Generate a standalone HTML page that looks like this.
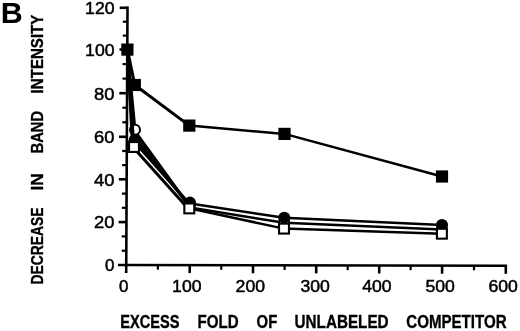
<!DOCTYPE html>
<html><head><meta charset="utf-8"><title>Figure B</title>
<style>
html,body{margin:0;padding:0;background:#fff;}
body{width:520px;height:331px;overflow:hidden;}
svg{display:block;}
text{font-family:"Liberation Sans",sans-serif;fill:#000;}
.t{font-size:17.4px;stroke:#000;stroke-width:0.5px;}
.b{font-weight:bold;font-size:18px;stroke:#000;stroke-width:0.35px;}
</style></head><body>
<svg width="520" height="331" viewBox="0 0 520 331">
<rect width="520" height="331" fill="#fff"/>
<g stroke="#000" stroke-width="2.6" fill="none" stroke-linecap="butt">
<path d="M127.5 6.5L126.2 273"/>
<path d="M118 265.0L507.1 265.8"/>
<path d="M119.7 7.8H127.5"/>
<path d="M119.5 49.5H127.3"/>
<path d="M122.8 35.6H127.4" stroke-width="2.2"/>
<path d="M122.8 21.7H127.4" stroke-width="2.2"/>
<path d="M119.3 93.2H127.1"/>
<path d="M122.5 78.6H127.1" stroke-width="2.2"/>
<path d="M122.6 64.1H127.2" stroke-width="2.2"/>
<path d="M119.0 136.8H126.8"/>
<path d="M122.3 122.3H126.9" stroke-width="2.2"/>
<path d="M122.4 107.7H127.0" stroke-width="2.2"/>
<path d="M118.8 179.3H126.6"/>
<path d="M122.1 165.1H126.7" stroke-width="2.2"/>
<path d="M122.2 151.0H126.8" stroke-width="2.2"/>
<path d="M118.6 222.1H126.4"/>
<path d="M121.9 207.8H126.5" stroke-width="2.2"/>
<path d="M122.0 193.6H126.6" stroke-width="2.2"/>
<path d="M121.7 250.7H126.3" stroke-width="2.2"/>
<path d="M121.7 236.4H126.3" stroke-width="2.2"/>
<path d="M157.9 265.1V269.7" stroke-width="2.2"/>
<path d="M189.7 265.1V273.1"/>
<path d="M221.3 265.2V269.8" stroke-width="2.2"/>
<path d="M253.0 265.3V273.3"/>
<path d="M284.6 265.3V269.9" stroke-width="2.2"/>
<path d="M316.2 265.4V273.4"/>
<path d="M347.7 265.5V270.1" stroke-width="2.2"/>
<path d="M379.2 265.5V273.5"/>
<path d="M410.6 265.6V270.2" stroke-width="2.2"/>
<path d="M442.1 265.7V273.7"/>
<path d="M474.0 265.7V270.3" stroke-width="2.2"/>
<path d="M505.8 265.8V273.8"/>
</g>
<text class="t" x="114.5" y="14.1" text-anchor="end" textLength="29.4" lengthAdjust="spacingAndGlyphs">120</text>
<text class="t" x="114.5" y="55.9" text-anchor="end" textLength="29.4" lengthAdjust="spacingAndGlyphs">100</text>
<text class="t" x="114.5" y="99.5" text-anchor="end" textLength="20.4" lengthAdjust="spacingAndGlyphs">80</text>
<text class="t" x="114.5" y="143.2" text-anchor="end" textLength="20.4" lengthAdjust="spacingAndGlyphs">60</text>
<text class="t" x="114.5" y="185.7" text-anchor="end" textLength="20.4" lengthAdjust="spacingAndGlyphs">40</text>
<text class="t" x="114.5" y="228.4" text-anchor="end" textLength="20.4" lengthAdjust="spacingAndGlyphs">20</text>
<text class="t" x="114.5" y="271.4" text-anchor="end" textLength="9.4" lengthAdjust="spacingAndGlyphs">0</text>
<text class="t" x="123.8" y="291.8" text-anchor="middle" textLength="9.4" lengthAdjust="spacingAndGlyphs">0</text>
<text class="t" x="186.8" y="291.8" text-anchor="middle" textLength="29.4" lengthAdjust="spacingAndGlyphs">100</text>
<text class="t" x="250.3" y="291.8" text-anchor="middle" textLength="29.4" lengthAdjust="spacingAndGlyphs">200</text>
<text class="t" x="315.2" y="291.8" text-anchor="middle" textLength="29.4" lengthAdjust="spacingAndGlyphs">300</text>
<text class="t" x="376.9" y="291.8" text-anchor="middle" textLength="29.4" lengthAdjust="spacingAndGlyphs">400</text>
<text class="t" x="440.1" y="291.8" text-anchor="middle" textLength="29.4" lengthAdjust="spacingAndGlyphs">500</text>
<text class="t" x="503.1" y="291.8" text-anchor="middle" textLength="29.4" lengthAdjust="spacingAndGlyphs">600</text>
<text x="0.8" y="22.9" font-size="30.2" font-weight="bold" textLength="22.0" lengthAdjust="spacingAndGlyphs">B</text>
<text class="b" x="120.3" y="328.4" textLength="59.3" lengthAdjust="spacingAndGlyphs">EXCESS</text>
<text class="b" x="197.6" y="328.4" textLength="41.0" lengthAdjust="spacingAndGlyphs">FOLD</text>
<text class="b" x="256.6" y="328.4" textLength="20.6" lengthAdjust="spacingAndGlyphs">OF</text>
<text class="b" x="294.6" y="328.4" textLength="94.0" lengthAdjust="spacingAndGlyphs">UNLABELED</text>
<text class="b" x="406.3" y="328.4" textLength="100.3" lengthAdjust="spacingAndGlyphs">COMPETITOR</text>
<text class="b" style="font-size:17.3px" transform="translate(42.9 284.4) rotate(-90)" textLength="76.9" lengthAdjust="spacingAndGlyphs">DECREASE</text>
<text class="b" style="font-size:17.3px" transform="translate(42.9 190.6) rotate(-90)" textLength="17.2" lengthAdjust="spacingAndGlyphs">IN</text>
<text class="b" style="font-size:17.3px" transform="translate(42.9 153.3) rotate(-90)" textLength="42.3" lengthAdjust="spacingAndGlyphs">BAND</text>
<text class="b" style="font-size:17.3px" transform="translate(42.9 93.4) rotate(-90)" textLength="78.8" lengthAdjust="spacingAndGlyphs">INTENSITY</text>
<path d="M127.4 49.6L135.0 130.5" fill="none" stroke="#000" stroke-width="3.0" stroke-linecap="round"/>
<path d="M135.0 131.5L189.8 207.0" fill="none" stroke="#000" stroke-width="3.0" stroke-linecap="round"/>
<path d="M189.8 207.6L284.2 222.8" fill="none" stroke="#000" stroke-width="2.5" stroke-linecap="round"/>
<path d="M284.2 222.8L441.8 229.6" fill="none" stroke="#000" stroke-width="2.5" stroke-linecap="round"/>
<circle cx="135.0" cy="129.8" r="5.0" fill="#fff" stroke="#000" stroke-width="2.0"/>
<circle cx="189.8" cy="205.6" r="5.0" fill="#fff" stroke="#000" stroke-width="2.0"/>
<circle cx="284.2" cy="222.8" r="5.0" fill="#fff" stroke="#000" stroke-width="2.0"/>
<circle cx="441.8" cy="229.6" r="5.0" fill="#fff" stroke="#000" stroke-width="2.0"/>
<path d="M127.4 49.6L133.4 140.0" fill="none" stroke="#000" stroke-width="3.0" stroke-linecap="round"/>
<path d="M134.8 137.0L189.6 206.0" fill="none" stroke="#000" stroke-width="3.0" stroke-linecap="round"/>
<path d="M134.6 142.0L190.0 204.4" fill="none" stroke="#000" stroke-width="3.0" stroke-linecap="round"/>
<path d="M190.0 203.6L284.3 217.8" fill="none" stroke="#000" stroke-width="2.5" stroke-linecap="round"/>
<path d="M284.3 217.8L442.0 225.0" fill="none" stroke="#000" stroke-width="2.5" stroke-linecap="round"/>
<circle cx="134.6" cy="140.5" r="6.1" fill="#000"/>
<circle cx="190.0" cy="202.7" r="6.1" fill="#000"/>
<circle cx="284.3" cy="217.8" r="6.1" fill="#000"/>
<circle cx="442.0" cy="225.0" r="6.1" fill="#000"/>
<path d="M127.4 49.6L132.6 147.0" fill="none" stroke="#000" stroke-width="3.0" stroke-linecap="round"/>
<path d="M134.0 148.2L189.0 209.6" fill="none" stroke="#000" stroke-width="3.0" stroke-linecap="round"/>
<path d="M189.3 208.4L284.0 228.6" fill="none" stroke="#000" stroke-width="2.5" stroke-linecap="round"/>
<path d="M284.0 228.6L441.9 233.7" fill="none" stroke="#000" stroke-width="2.5" stroke-linecap="round"/>
<rect x="129.05" y="142.05" width="9.9" height="9.9" fill="#fff" stroke="#000" stroke-width="2.1"/>
<rect x="184.35" y="203.45" width="9.9" height="9.9" fill="#fff" stroke="#000" stroke-width="2.1"/>
<rect x="279.05" y="223.65" width="9.9" height="9.9" fill="#fff" stroke="#000" stroke-width="2.1"/>
<rect x="436.95" y="228.75" width="9.9" height="9.9" fill="#fff" stroke="#000" stroke-width="2.1"/>
<path d="M127.4 49.6L134.8 85.0" fill="none" stroke="#000" stroke-width="3.0" stroke-linecap="round"/>
<path d="M134.8 85.0L189.3 125.6" fill="none" stroke="#000" stroke-width="3.0" stroke-linecap="round"/>
<path d="M189.3 125.6L284.5 133.9" fill="none" stroke="#000" stroke-width="2.5" stroke-linecap="round"/>
<path d="M284.5 133.9L442.0 176.5" fill="none" stroke="#000" stroke-width="2.5" stroke-linecap="round"/>
<rect x="121.30" y="43.50" width="12.2" height="12.2" fill="#000"/>
<rect x="128.70" y="78.90" width="12.2" height="12.2" fill="#000"/>
<rect x="183.20" y="119.50" width="12.2" height="12.2" fill="#000"/>
<rect x="278.40" y="127.80" width="12.2" height="12.2" fill="#000"/>
<rect x="435.90" y="170.40" width="12.2" height="12.2" fill="#000"/>
</svg>
</body></html>
